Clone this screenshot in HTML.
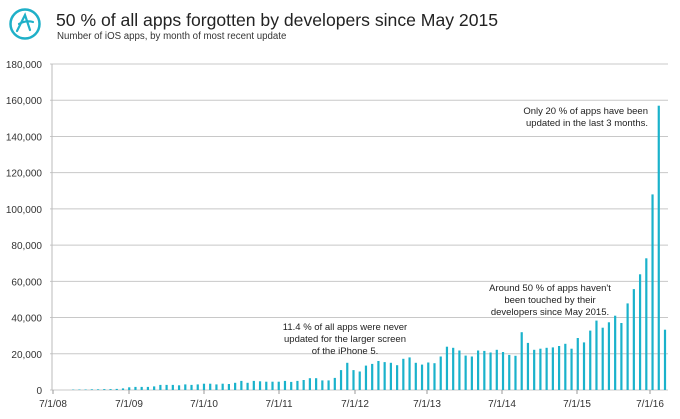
<!DOCTYPE html>
<html><head><meta charset="utf-8"><style>
body{margin:0;background:#fff;width:680px;height:414px;overflow:hidden;font-family:"Liberation Sans","DejaVu Sans",sans-serif}
</style></head><body>
<svg id="s" width="680" height="414" xmlns="http://www.w3.org/2000/svg" font-family="Liberation Sans, DejaVu Sans, sans-serif">
<circle cx="25" cy="24" r="14.5" fill="none" stroke="#1fb0c8" stroke-width="2.5"/>
<path d="M17 31 L25 15 L30 30 M19 24 Q26 20 33 22" fill="none" stroke="#1fb0c8" stroke-width="2.2" stroke-linecap="round"/>
<text x="56" y="26" font-size="17.6" fill="#222">50 % of all apps forgotten by developers since May 2015</text>
<text x="57" y="39" font-size="9.7" fill="#333">Number of iOS apps, by month of most recent update</text>
<g id="g"></g>
<g font-size="9.5" fill="#222" text-anchor="middle">
<text x="345" y="330">11.4 % of all apps were never</text>
<text x="345" y="342">updated for the larger screen</text>
<text x="345" y="354">of the iPhone 5.</text>
<text x="550" y="291">Around 50 % of apps haven't</text>
<text x="550" y="303">been touched by their</text>
<text x="550" y="315">developers since May 2015.</text>
</g>
<g font-size="9.5" fill="#222" text-anchor="end">
<text x="648" y="114">Only 20 % of apps have been</text>
<text x="648" y="126">updated in the last 3 months.</text>
</g>
</svg>
<script>
var g=document.getElementById('g'),h='';
function Y(v){return 390-v*326/180}
for(var i=0;i<=9;i++){var v=i*20,y=Y(v);
h+='<line x1="50" x2="668" y1="'+y+'" y2="'+y+'" stroke="#c8c8c8" stroke-width="1"/>';
h+='<text x="42" y="'+(y+4)+'" font-size="10" fill="#333" text-anchor="end">'+(v==0?'0':v+',000')+'</text>';}
h+='<line x1="52" x2="52" y1="64" y2="390" stroke="#bbb"/>';
var xs=[53,129,204,279,355,427,502,577,650],yl=['08','09','10','11','12','13','14','15','16'];
for(var i=0;i<9;i++){h+='<line x1="'+xs[i]+'" x2="'+xs[i]+'" y1="390" y2="394" stroke="#999"/>';
h+='<text x="'+xs[i]+'" y="407" font-size="10" fill="#333" text-anchor="middle">7/1/'+yl[i]+'</text>';}
var d=[0.2,0.3,0.3,0.4,0.4,0.5,0.5,0.6,0.9,1.5,1.7,1.7,1.7,2,2.8,2.8,2.8,2.6,3.1,2.8,3.1,3.5,3.5,3.1,3.5,3.3,4,5,4,5,4.8,4.6,4.6,4.6,5,4.5,5,5.5,6.5,6.5,5.3,5.3,6.7,11,15,11,10.2,
13.5,14.4,16,15.4,15,13.7,17.2,18,15,14,15.2,14.8,18.5,23.9,23.3,21.8,19,18.5,21.8,21.6,20.7,22.2,21,19.4,18.9,31.9,26,22.2,22.8,23.3,23.5,24.3,25.5,22.8,28.7,26.3,32.8,38.3,34.4,37.4,41,37,47.8,55.7,63.9,72.7,108,157,33.3];
for(var i=0;i<d.length;i++){var x=665-(d.length-1-i)*6.23,y=Y(d[i]);
h+='<rect x="'+(x-1.1).toFixed(2)+'" y="'+y.toFixed(1)+'" width="2.2" height="'+(390-y).toFixed(1)+'" fill="#1ab2cb"/>';}
g.innerHTML=h;
</script>
</body></html>
